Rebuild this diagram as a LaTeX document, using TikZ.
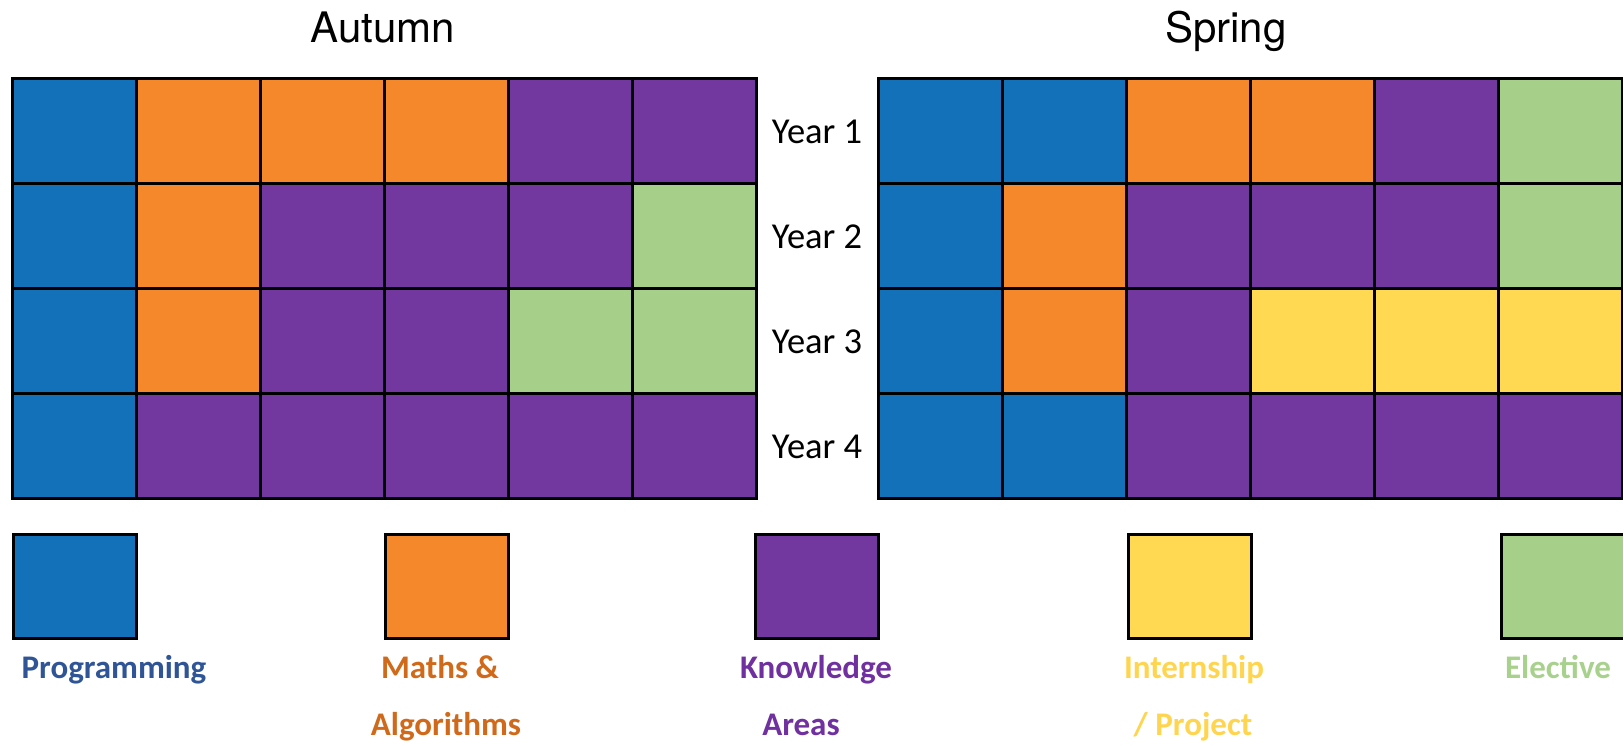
\documentclass[tikz,border=0pt]{standalone}
\usepackage{fontspec}
\setmainfont{Carlito}
\newfontfamily\titlefont{TeX Gyre Heros}
\definecolor{cB}{HTML}{1271B8}
\definecolor{cO}{HTML}{F5882A}
\definecolor{cP}{HTML}{7337A0}
\definecolor{cG}{HTML}{A6CF89}
\definecolor{cY}{HTML}{FFD952}
\definecolor{tB}{HTML}{2F5597}
\definecolor{tO}{HTML}{D06A1A}
\definecolor{tP}{HTML}{7030A0}
\definecolor{tY}{HTML}{FFD54F}
\definecolor{tG}{HTML}{A9D18E}
\begin{document}
\begin{tikzpicture}[x=1pt,y=-1pt,
  cell/.style={draw=black, line width=3pt, minimum width=124pt, minimum height=105pt, inner sep=0pt, outer sep=0pt, anchor=north west},
  legbox/.style={draw=black, line width=3pt, minimum width=123pt, minimum height=104pt, inner sep=0pt, anchor=north west},
  title/.style={font=\titlefont\fontsize{42}{50}\selectfont, anchor=base},
  yearlbl/.style={font=\fontsize{36.5}{42}\selectfont, anchor=base},
  legtext/.style={font=\bfseries\fontsize{33}{38}\selectfont, anchor=base}]
\useasboundingbox (0,0) rectangle (1623,745);
\node[title] (tA) at (383,42) {Autumn};
\node[title] (tS) at (1226,42) {Spring};
% Autumn grid
\foreach \r/\row in {1/{B,O,O,O,P,P},2/{B,O,P,P,P,G},3/{B,O,P,P,G,G},4/{B,P,P,P,P,P}}{
  \foreach \col [count=\i] in \row {
    \node[cell, fill=c\col] (a\r\i) at ({12+(\i-1)*124},{78+(\r-1)*105}) {};
  }
}
% Spring grid
\foreach \r/\row in {1/{B,B,O,O,P,G},2/{B,O,P,P,P,G},3/{B,O,P,Y,Y,Y},4/{B,B,P,P,P,P}}{
  \foreach \col [count=\i] in \row {
    \node[cell, fill=c\col] (s\r\i) at ({878+(\i-1)*124},{78+(\r-1)*105}) {};
  }
}
% Year labels
\foreach \r in {1,2,3,4}{
  \node[yearlbl] (y\r) at (817,{143+(\r-1)*105}) {Year \r};
}
% Legend
\node[legbox, fill=cB] (lB) at (12,533) {};
\node[legbox, fill=cO] (lO) at (384,533) {};
\node[legbox, fill=cP] (lP) at (754,533) {};
\node[legbox, fill=cY] (lY) at (1127,533) {};
\node[legbox, fill=cG] (lG) at (1500,533) {};
\node[legtext, text=tB] (xB) at (114,678) {Programming};
\node[legtext, text=tO] (xO1) at (440,678) {Maths \&};
\node[legtext, text=tO] (xO2) at (446,735) {Algorithms};
\node[legtext, text=tP] (xP1) at (816,678) {Knowledge};
\node[legtext, text=tP] (xP2) at (801,735) {Areas};
\node[legtext, text=tY] (xY1) at (1194,678) {Internship};
\node[legtext, text=tY] (xY2) at (1193,735) {/ Project};
\node[legtext, text=tG] (xG) at (1558,678) {Elective};
\end{tikzpicture}
\end{document}
